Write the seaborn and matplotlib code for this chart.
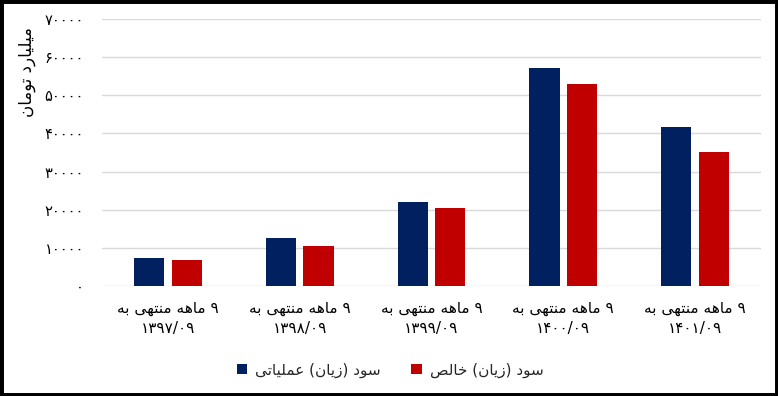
import matplotlib
matplotlib.use("Agg")
import matplotlib.pyplot as plt
from matplotlib.patches import Rectangle
from matplotlib.ticker import FuncFormatter
import seaborn as sns
import pandas as pd

# ---------------- data ----------------
periods = ["۱۳۹۷/۰۹", "۱۳۹۸/۰۹", "۱۳۹۹/۰۹", "۱۴۰۰/۰۹", "۱۴۰۱/۰۹"]
period_prefix = "۹ ماهه منتهی به"
series_names = ["سود (زیان) عملیاتی", "سود (زیان) خالص"]
operating_profit = [7350, 12600, 22050, 57200, 41700]
net_profit = [6800, 10500, 20450, 53050, 35150]
y_label = "میلیارد تومان"
y_ticks = [0, 10000, 20000, 30000, 40000, 50000, 60000, 70000]
colors = ["#002060", "#C00000"]

# ---------------- minimal Arabic/Persian shaping ----------------
FORMS = {
    'ا': ('\uFE8D', '\uFE8E', None, None),
    'ب': ('\uFE8F', '\uFE90', '\uFE91', '\uFE92'),
    'ت': ('\uFE95', '\uFE96', '\uFE97', '\uFE98'),
    'خ': ('\uFEA5', '\uFEA6', '\uFEA7', '\uFEA8'),
    'د': ('\uFEA9', '\uFEAA', None, None),
    'ر': ('\uFEAD', '\uFEAE', None, None),
    'ز': ('\uFEAF', '\uFEB0', None, None),
    'س': ('\uFEB1', '\uFEB2', '\uFEB3', '\uFEB4'),
    'ص': ('\uFEB9', '\uFEBA', '\uFEBB', '\uFEBC'),
    'ع': ('\uFEC9', '\uFECA', '\uFECB', '\uFECC'),
    'ل': ('\uFEDD', '\uFEDE', '\uFEDF', '\uFEE0'),
    'م': ('\uFEE1', '\uFEE2', '\uFEE3', '\uFEE4'),
    'ن': ('\uFEE5', '\uFEE6', '\uFEE7', '\uFEE8'),
    'ه': ('\uFEE9', '\uFEEA', '\uFEEB', '\uFEEC'),
    'و': ('\uFEED', '\uFEEE', None, None),
    'ی': ('\uFBFC', '\uFBFD', '\uFBFE', '\uFBFF'),
}
MIRROR = {'(': ')', ')': '('}


def rtl(text):
    out = []
    for i, c in enumerate(text):
        f = FORMS.get(c)
        if f is None:
            out.append(MIRROR.get(c, c))
            continue
        prev = text[i - 1] if i > 0 else None
        nxt = text[i + 1] if i + 1 < len(text) else None
        jp = prev in FORMS and FORMS[prev][2] is not None
        jn = nxt in FORMS and f[2] is not None
        if jp and jn:
            out.append(f[3])
        elif jp:
            out.append(f[1])
        elif jn:
            out.append(f[2])
        else:
            out.append(f[0])
    return "".join(reversed(out))


PERSIAN = str.maketrans("0123456789", "۰۱۲۳۴۵۶۷۸۹")

# ---------------- frame ----------------
cat_labels = [rtl(period_prefix) + "\n" + p for p in periods]
hue_labels = [rtl(s) for s in series_names]
df = pd.DataFrame({
    "period": cat_labels * 2,
    "series": [hue_labels[0]] * len(periods) + [hue_labels[1]] * len(periods),
    "value": operating_profit + net_profit,
})

sns.set_theme(style="white")
plt.rcParams["font.family"] = ["DejaVu Sans"]

fig = plt.figure(figsize=(7.78, 3.96), dpi=100)
ax = fig.add_axes([102 / 778, 1 - 286 / 396, (761 - 102) / 778, (286 - 19) / 396])

sns.barplot(data=df, x="period", y="value", hue="series", order=cat_labels,
            hue_order=hue_labels, palette=colors, width=0.57, gap=0.2,
            saturation=1, linewidth=0, ax=ax, legend=True)

ax.set_ylim(0, 70000)
ax.set_yticks(y_ticks)
ax.yaxis.set_major_formatter(FuncFormatter(lambda v, p: str(int(v)).translate(PERSIAN)))
ax.grid(axis="y", color="#D9D9D9", linewidth=1)
ax.set_axisbelow(True)
for s in ax.spines.values():
    s.set_visible(False)
ax.set_xlabel("")
ax.set_ylabel("")
ax.tick_params(axis="y", length=0, pad=13, labelsize=10.5, labelcolor="#000000")
ax.tick_params(axis="x", length=0, pad=11, labelsize=11, labelcolor="#000000")
for t in ax.get_xticklabels():
    t.set_linespacing(1.4)

fig.text(27 / 778, 1 - 72 / 396, rtl(y_label), rotation=90, ha="center",
         va="center", fontsize=12, color="#000000")

ax.legend_.remove()
handles, labels = ax.get_legend_handles_labels()
fig.legend(handles, labels, loc="center", bbox_to_anchor=(390 / 778, 1 - 370 / 396),
           ncol=2, frameon=False, fontsize=11, handlelength=0.7, handleheight=0.7,
           handletextpad=0.5, columnspacing=2.0)

fig.patches.append(Rectangle((0, 0), 1, 1, transform=fig.transFigure, fill=False,
                             edgecolor="black", linewidth=5, clip_on=False))

fig.savefig("out.png", dpi=100, facecolor="white")
